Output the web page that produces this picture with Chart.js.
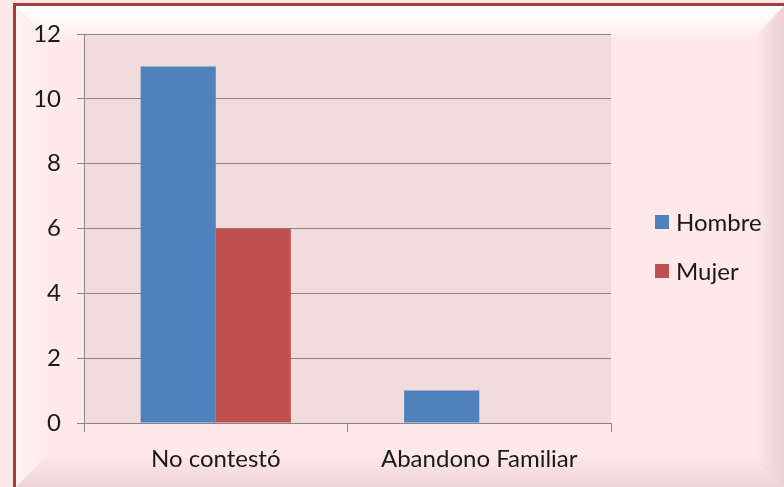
<!DOCTYPE html>
<html>
<head>
<meta charset="utf-8">
<script src="https://cdn.jsdelivr.net/npm/chart.js@4/dist/chart.umd.min.js"></script>
<style>
  html, body { margin: 0; padding: 0; background: #fff; }
  #wrap { width: 784px; height: 487px; }
</style>
</head>
<body>
<div id="wrap"><canvas id="myChart" width="784" height="487"></canvas></div>
<script>
var categories = ['No contestó', 'Abandono Familiar'];
var hombre = [11, 1];
var mujer = [6, 0];
var yTicks = [0, 2, 4, 6, 8, 10, 12];

var FONT = 'Lato, "DejaVu Sans", sans-serif';

// Pink frame with bevelled edges, drawn behind everything
var framePlugin = {
  id: 'frame',
  beforeDraw: function (chart) {
    var c = chart.ctx, w = chart.width, h = chart.height;
    var L = 16, T = 6;
    c.save();
    c.fillStyle = '#fee8e8';
    c.fillRect(0, 0, w, h);

    // top bevel (light)
    var g = c.createLinearGradient(0, T, 0, T + 34);
    g.addColorStop(0, 'rgba(255,255,255,1)');
    g.addColorStop(0.4, 'rgba(255,255,255,0.8)');
    g.addColorStop(1, 'rgba(255,255,255,0)');
    c.fillStyle = g;
    c.beginPath();
    c.moveTo(L, T); c.lineTo(w, T); c.lineTo(w - 30, T + 34); c.lineTo(L + 34, T + 34);
    c.closePath(); c.fill();

    // left bevel (light)
    g = c.createLinearGradient(L, 0, L + 36, 0);
    g.addColorStop(0, 'rgba(255,242,242,1)');
    g.addColorStop(1, 'rgba(255,242,242,0)');
    c.fillStyle = g;
    c.beginPath();
    c.moveTo(L, T); c.lineTo(L + 34, T + 34); c.lineTo(L + 34, h - 34); c.lineTo(L, h);
    c.closePath(); c.fill();

    // right bevel (shade)
    g = c.createLinearGradient(w - 28, 0, w, 0);
    g.addColorStop(0, 'rgba(228,200,200,0)');
    g.addColorStop(1, 'rgba(228,200,200,0.7)');
    c.fillStyle = g;
    c.beginPath();
    c.moveTo(w, T); c.lineTo(w, h); c.lineTo(w - 28, h - 28); c.lineTo(w - 28, T + 28);
    c.closePath(); c.fill();

    // bottom bevel (shade)
    g = c.createLinearGradient(0, h - 32, 0, h);
    g.addColorStop(0, 'rgba(228,200,200,0)');
    g.addColorStop(1, 'rgba(228,200,200,0.6)');
    c.fillStyle = g;
    c.beginPath();
    c.moveTo(L, h); c.lineTo(L + 32, h - 32); c.lineTo(w - 28, h - 32); c.lineTo(w, h);
    c.closePath(); c.fill();

    // outer border
    c.strokeStyle = '#a03c3c';
    c.lineWidth = 3;
    c.beginPath();
    c.moveTo(w + 2, T - 1.5); c.lineTo(L - 1.5, T - 1.5); c.lineTo(L - 1.5, h + 2);
    c.stroke();

    // plot area fill
    var a = chart.chartArea;
    c.fillStyle = '#f2dcdb';
    c.fillRect(a.left, a.top, a.right - a.left, a.bottom - a.top);
    c.restore();
  },
  afterDraw: function (chart) {
    // legend on the right
    var c = chart.ctx;
    var items = chart.data.datasets;
    var ys = [222, 271];
    c.save();
    c.font = '24px ' + FONT;
    c.textBaseline = 'middle';
    items.forEach(function (ds, i) {
      c.fillStyle = ds.backgroundColor;
      c.fillRect(655, ys[i] - 7, 14, 14);
      c.fillStyle = '#1a1a1a';
      c.fillText(ds.label, 676, ys[i] + 1);
    });
    c.restore();
  }
};

var ctx = document.getElementById('myChart').getContext('2d');
var myChart = new Chart(ctx, {
  type: 'bar',
  data: {
    labels: categories,
    datasets: [{
      label: 'Hombre',
      data: hombre,
      backgroundColor: '#4f81bd'
    }, {
      label: 'Mujer',
      data: mujer,
      backgroundColor: '#c0504d'
    }]
  },
  options: {
    responsive: false,
    animation: false,
    layout: { padding: { left: 0, right: 173, top: 34, bottom: 0 } },
    datasets: {
      bar: { categoryPercentage: 0.57, barPercentage: 1.0 }
    },
    plugins: {
      legend: { display: false },
      tooltip: { enabled: false }
    },
    scales: {
      x: {
        grid: { drawOnChartArea: false, drawTicks: true, tickLength: 9, color: '#868686' },
        border: { color: '#868686' },
        ticks: { color: '#1a1a1a', padding: 13, font: { family: FONT, size: 24 } },
        afterFit: function (s) { s.height = 64; }
      },
      y: {
        min: 0,
        max: 12,
        afterBuildTicks: function (s) {
          s.ticks = yTicks.map(function (v) { return { value: v }; });
        },
        grid: { color: '#868686', tickLength: 7 },
        border: { color: '#868686' },
        ticks: { color: '#1a1a1a', padding: 16, font: { family: FONT, size: 24 } },
        afterFit: function (s) { s.width = 84; }
      }
    }
  },
  plugins: [framePlugin]
});
</script>
</body>
</html>
